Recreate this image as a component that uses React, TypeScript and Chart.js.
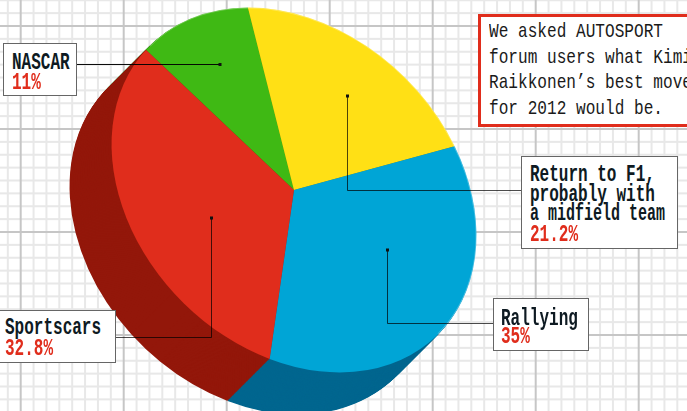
import React, { useEffect, useRef } from "react";
import { Chart, registerables } from "chart.js";

Chart.register(...registerables);

const categories = ["NASCAR", "Return to F1, probably with a midfield team", "Rallying", "Sportscars"];
const shares = [11, 21.2, 35, 32.8];
const faceColors = ["#3FB914", "#FFE015", "#00A5D6", "#E02D1C"];
const wallColors = ["#1F6B08", "#A08A00", "#01668F", "#93170A"];

const WIDTH = 687;
const HEIGHT = 411;

// Tilted disc: centre, semi-axes, long axis direction, extrusion depth
const DISC = { cx: 294, cy: 190, major: 204, minor: 158, tilt: Math.PI / 4, depthX: -42, depthY: 42 };

// Graph paper behind the chart
const GRID = { step: 12.875, majorEvery: 8, originX: 20.7, originY: 26 };

type Leader = { from: [number, number]; corner?: [number, number]; to: [number, number]; alpha: number };
const leaders: Leader[] = [
  { from: [77, 64.5], to: [220, 64.5], alpha: 0.95 },
  { from: [521, 190.5], corner: [347.5, 190.5], to: [347.5, 96], alpha: 0.7 },
  { from: [493, 323.5], corner: [387.5, 323.5], to: [387.5, 250], alpha: 0.7 },
  { from: [116, 337.5], corner: [211.5, 337.5], to: [211.5, 218], alpha: 0.7 },
];

const CONDENSE = 0.696;
const LABEL_SIZE = 23;
const calloutBoxes = [
  { left: 3, top: 43, width: 74, height: 53 },
  { left: 521, top: 156, width: 157, height: 93 },
  { left: 493, top: 298, width: 96, height: 53 },
  { left: -4, top: 310, width: 120, height: 53 },
];
type TextRow = { text: string; y: number; scale?: number };
const calloutText: { x: number; lines: TextRow[]; percent: number; shareIndex: number }[] = [
  { x: 12, lines: [{ text: "NASCAR", y: 70 }], percent: 90, shareIndex: 0 },
  {
    x: 530,
    lines: [
      { text: "Return to F1,", y: 182 },
      { text: "probably with", y: 201.5 },
      { text: "a midfield team", y: 221, scale: 0.652 },
    ],
    percent: 242,
    shareIndex: 1,
  },
  { x: 501, lines: [{ text: "Rallying", y: 326 }], percent: 344, shareIndex: 2 },
  { x: 5, lines: [{ text: "Sportscars", y: 335 }], percent: 356, shareIndex: 3 },
];
const introLines = ["We asked AUTOSPORT", "forum users what Kimi", "Raikkonen\u2019s best move", "for 2012 would be."];

function applyDiscTransform(ctx: CanvasRenderingContext2D, arc: any) {
  const r = arc.outerRadius;
  ctx.translate(DISC.cx, DISC.cy);
  ctx.rotate(DISC.tilt);
  ctx.scale(DISC.major / r, DISC.minor / r);
  ctx.translate(-arc.x, -arc.y);
}

const paperPlugin = {
  id: "paper",
  beforeDraw(chart: any) {
    const { ctx } = chart;
    ctx.save();
    ctx.fillStyle = "#ffffff";
    ctx.fillRect(0, 0, WIDTH, HEIGHT);
    const paint = (major: boolean) => {
      ctx.fillStyle = major ? "#c6c6c6" : "#e8e8e8";
      for (let i = -8; i < 60; i++) {
        if ((i % GRID.majorEvery === 0) !== major) continue;
        const x = GRID.originX + i * GRID.step;
        const y = GRID.originY + i * GRID.step;
        ctx.fillRect(x - 1, 0, 2, HEIGHT);
        ctx.fillRect(0, y - 1, WIDTH, 2);
      }
    };
    paint(false);
    paint(true);
    ctx.restore();
  },
};

const discPlugin = {
  id: "disc",
  beforeDatasetsDraw(chart: any) {
    const { ctx } = chart;
    const arcs = chart.getDatasetMeta(0).data;
    // Side wall: the slices swept along the extrusion direction, far end first
    const steps = 60;
    for (let s = steps; s > 0; s--) {
      ctx.save();
      ctx.translate((DISC.depthX * s) / steps, (DISC.depthY * s) / steps);
      applyDiscTransform(ctx, arcs[0]);
      arcs.forEach((arc: any, i: number) => {
        ctx.beginPath();
        ctx.moveTo(arc.x, arc.y);
        ctx.arc(arc.x, arc.y, arc.outerRadius, arc.startAngle, arc.endAngle);
        ctx.closePath();
        ctx.fillStyle = wallColors[i];
        ctx.fill();
      });
      ctx.restore();
    }
    ctx.save();
    applyDiscTransform(ctx, arcs[0]);
  },
  afterDatasetsDraw(chart: any) {
    const { ctx } = chart;
    const arc = chart.getDatasetMeta(0).data[0];
    // Thin light edge where the face meets the wall
    ctx.beginPath();
    ctx.arc(arc.x, arc.y, arc.outerRadius - 0.5, Math.PI, Math.PI * 2);
    ctx.strokeStyle = "rgba(255,255,255,0.28)";
    ctx.lineWidth = 1;
    ctx.stroke();
    ctx.restore();
  },
};

const leaderPlugin = {
  id: "leaders",
  afterDraw(chart: any) {
    const { ctx } = chart;
    ctx.save();
    leaders.forEach((l) => {
      ctx.strokeStyle = `rgba(0,0,0,${l.alpha})`;
      ctx.fillStyle = "#111";
      ctx.lineWidth = 1;
      ctx.beginPath();
      ctx.moveTo(l.from[0], l.from[1]);
      if (l.corner) ctx.lineTo(l.corner[0], l.corner[1]);
      ctx.lineTo(l.to[0], l.to[1]);
      ctx.stroke();
      ctx.fillRect(l.to[0] - 1.5, l.to[1] - 1.5, 3, 3);
    });
    ctx.restore();
  },
};

function Line(props: { x: number; baseline: number; color: string; size: number; weight: number; scale: number; children: string }) {
  const { x, baseline, color, size, weight, scale, children } = props;
  return (
    <span
      style={{
        position: "absolute",
        left: x,
        top: baseline - 0.866 * size,
        height: size * 1.2,
        lineHeight: `${size * 1.2}px`,
        fontFamily: '"Liberation Mono", monospace',
        fontSize: size,
        fontWeight: weight,
        color,
        whiteSpace: "pre",
        transform: `scaleX(${scale})`,
        transformOrigin: "left top",
      }}
    >
      {children}
    </span>
  );
}

export default function App() {
  const canvasRef = useRef<HTMLCanvasElement | null>(null);

  useEffect(() => {
    const chart = new Chart(canvasRef.current as HTMLCanvasElement, {
      type: "pie",
      data: {
        labels: categories,
        datasets: [{ data: shares, backgroundColor: faceColors, borderWidth: 0, clip: false } as any],
      },
      options: {
        responsive: false,
        animation: false,
        rotation: 268,
        layout: { padding: 0 },
        plugins: { legend: { display: false }, tooltip: { enabled: false } },
      },
      plugins: [paperPlugin, discPlugin, leaderPlugin],
    });
    return () => chart.destroy();
  }, []);

  return (
    <div style={{ position: "fixed", left: 0, top: 0, width: WIDTH, height: HEIGHT, overflow: "hidden" }}>
      <canvas ref={canvasRef} width={WIDTH} height={HEIGHT} style={{ display: "block" }} />
      <div
        style={{
          position: "absolute",
          left: 478,
          top: 14,
          width: 230,
          height: 107,
          border: "3px solid #E02D1C",
          background: "#fff",
        }}
      />
      {introLines.map((t, i) => (
        <Line key={t} x={489} baseline={37 + i * 25.7} color="#1a1a1a" size={21} weight={400} scale={0.767}>
          {t}
        </Line>
      ))}
      {calloutBoxes.map((b, i) => (
        <div
          key={i}
          style={{
            position: "absolute",
            left: b.left,
            top: b.top,
            width: b.width,
            height: b.height,
            boxSizing: "border-box",
            border: "1px solid #666",
            background: "#fff",
          }}
        />
      ))}
      {calloutText.map((c) => (
        <React.Fragment key={c.shareIndex}>
          {c.lines.map((row) => (
            <Line key={row.text} x={c.x} baseline={row.y} color="#0E1A22" size={LABEL_SIZE} weight={700} scale={row.scale ?? CONDENSE}>
              {row.text}
            </Line>
          ))}
          <Line x={c.x} baseline={c.percent} color="#E02D1C" size={LABEL_SIZE} weight={700} scale={CONDENSE}>
            {`${shares[c.shareIndex]}%`}
          </Line>
        </React.Fragment>
      ))}
    </div>
  );
}
